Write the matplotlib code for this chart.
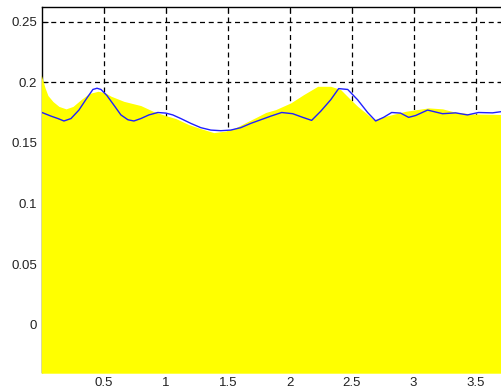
import matplotlib.pyplot as plt
import numpy as np

# filled envelope (yellow) and signal (blue)
fill_x = [-0.006, 0.024, 0.048, 0.089, 0.137, 0.194, 0.250, 0.315, 0.379, 0.452,
          0.508, 0.556, 0.661, 0.798, 0.903, 1.000, 1.081, 1.185, 1.282, 1.387,
          1.484, 1.565, 1.645, 1.726, 1.806, 1.887, 2.008, 2.113, 2.226, 2.331,
          2.411, 2.492, 2.548, 2.613, 2.677, 2.774, 2.935, 3.121, 3.234, 3.339,
          3.476, 3.73]
fill_y = [0.206, 0.1955, 0.189, 0.184, 0.180, 0.178, 0.180, 0.1856, 0.1906, 0.1925,
          0.1914, 0.1885, 0.1842, 0.1807, 0.1757, 0.1724, 0.170, 0.165, 0.1617, 0.1584,
          0.1597, 0.1625, 0.1667, 0.1708, 0.175, 0.1774, 0.1829, 0.1898, 0.1966, 0.1966,
          0.1939, 0.1856, 0.1801, 0.1747, 0.1691, 0.1719, 0.176, 0.1788, 0.178, 0.1752,
          0.1738, 0.1733]

line_x = [0.0, 0.073, 0.129, 0.177, 0.234, 0.298, 0.363, 0.411, 0.444, 0.476,
          0.524, 0.581, 0.637, 0.694, 0.742, 0.798, 0.863, 0.935, 1.000, 1.056,
          1.121, 1.202, 1.282, 1.363, 1.444, 1.524, 1.605, 1.685, 1.766, 1.847,
          1.935, 2.024, 2.105, 2.177, 2.250, 2.331, 2.395, 2.468, 2.548, 2.629,
          2.694, 2.758, 2.823, 2.895, 2.960, 3.016, 3.113, 3.234, 3.339, 3.435,
          3.524, 3.637, 3.73]
line_y = [0.175, 0.172, 0.170, 0.168, 0.170, 0.177, 0.187, 0.194, 0.195, 0.194,
          0.189, 0.181, 0.173, 0.169, 0.168, 0.170, 0.173, 0.175, 0.1745, 0.173,
          0.170, 0.166, 0.1625, 0.1605, 0.160, 0.1605, 0.1625, 0.166, 0.169, 0.172,
          0.175, 0.174, 0.171, 0.1685, 0.176, 0.1855, 0.1947, 0.194, 0.1855, 0.175,
          0.168, 0.171, 0.175, 0.1745, 0.171, 0.1725, 0.177, 0.174, 0.1747, 0.173,
          0.175, 0.1747, 0.176]

xticks = [0.5, 1, 1.5, 2, 2.5, 3, 3.5]
xtick_labels = ['0.5', '1', '1.5', '2', '2.5', '3', '3.5']
yticks = [0, 0.05, 0.1, 0.15, 0.2, 0.25]
ytick_labels = ['0', '0.05', '0.1', '0.15', '0.2', '0.25']

ymin, ymax = -0.039, 0.262

plt.rcParams['font.family'] = ['Liberation Sans', 'DejaVu Sans']

fig = plt.figure(figsize=(5.02, 3.92), dpi=100)
ax = fig.add_axes([42 / 502, 20 / 392, 462 / 502, 365 / 392])

# fill is left unclipped and drawn over the spines/grid below the curve
ax.fill_between(fill_x, ymin - 0.001, fill_y, color='#ffff00', linewidth=0,
                zorder=5, clip_on=False)
ax.plot(line_x, line_y, color='#2020ff', linewidth=1.0, zorder=6)

ax.set_xlim(0, 3.73)
ax.set_ylim(ymin, ymax)
ax.set_xticks(xticks, xtick_labels)
ax.set_yticks(yticks, ytick_labels)
ax.grid(True, color='black', linestyle=(0, (4, 3)), linewidth=0.9)
ax.set_axisbelow(True)
ax.tick_params(direction='in', top=True, right=True, length=4, labelsize=9.5,
               labelcolor='#222222')
ax.tick_params(axis='x', bottom=False)
ax.spines['bottom'].set_visible(False)
for s in ax.spines.values():
    s.set_linewidth(1.0)
    s.set_zorder(2)

fig.savefig('out.png', dpi=100)
